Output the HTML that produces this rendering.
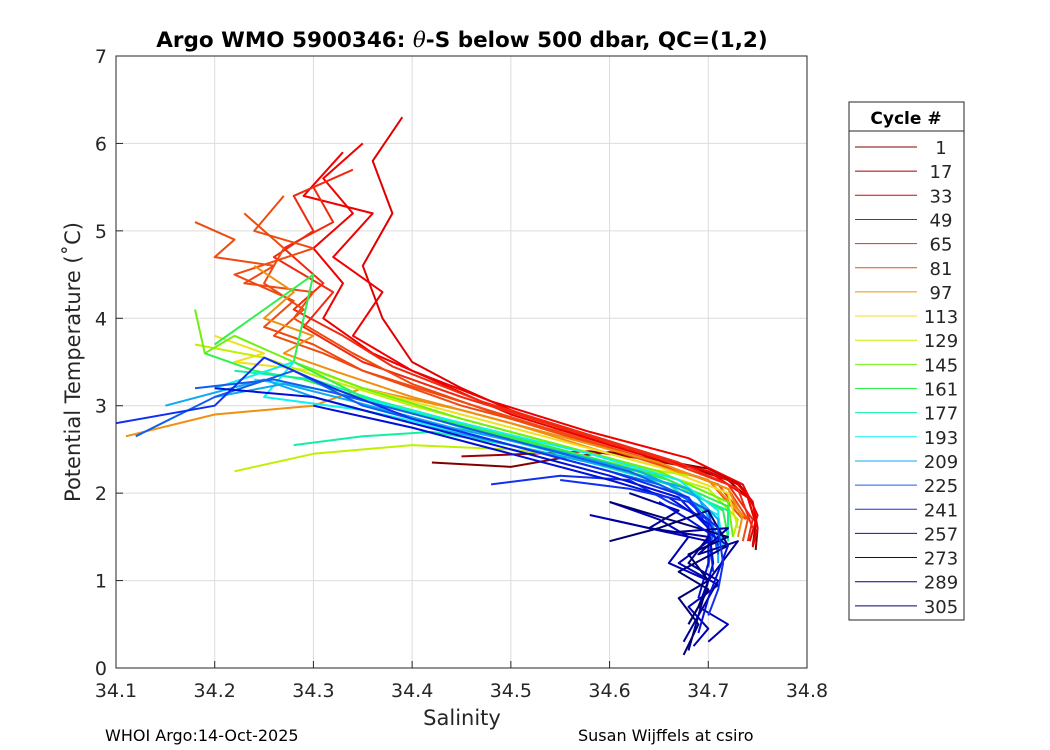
<!DOCTYPE html>
<html><head><meta charset="utf-8"><style>
body{margin:0;background:#fff;}
svg{display:block;font-family:"DejaVu Sans","Liberation Sans",sans-serif;}
</style></head><body>
<svg id="c" width="1050" height="750" viewBox="0 0 1050 750">
<rect width="1050" height="750" fill="#fff"/>
<g id="grid"></g>
<g id="plot"></g>
<rect x="116" y="56" width="691" height="612" fill="none" stroke="#262626" stroke-width="1"/>
<g id="ticks"></g>
<text x="462" y="47" text-anchor="middle" font-size="21.5" font-weight="bold" fill="#000">Argo WMO 5900346: <tspan font-style="italic" font-weight="normal" font-family="DejaVu Serif,serif">θ</tspan>-S below 500 dbar,  QC=(1,2)</text>
<text x="462" y="725" text-anchor="middle" font-size="21" fill="#262626">Salinity</text>
<text transform="translate(80,362) rotate(-90)" text-anchor="middle" font-size="21" fill="#262626">Potential Temperature (˚C)</text>
<text x="105" y="741" font-size="16" fill="#000">WHOI Argo:14-Oct-2025</text>
<text x="578" y="741" font-size="16" fill="#000">Susan Wijffels at csiro</text>
<g id="legend"></g>
</svg>
<script>
const xTicks=[34.1,34.2,34.3,34.4,34.5,34.6,34.7,34.8];
const yTicks=[0,1,2,3,4,5,6,7];
const legendCycles=[1,17,33,49,65,81,97,113,129,145,161,177,193,209,225,241,257,273,289,305];
const legendColors=["#800000","#a00000","#e00000","#f00000","#f02a10","#f04a10","#f09010","#f0e020","#c0f000","#70f010","#30f050","#10f0a0","#10f0f0","#10a8f0","#1060f0","#1030f0","#0010d8","#0000b8","#000098","#000070"];
// curves: color index (legend group), salinity list, temperature list
const curveGroup=[0,1,2,3,3,4,4,5,5,5,6,6,7,8,8,9,10,10,11,11,12,12,13,13,14,14,15,15,16,16,17,17,18,18,19,19,16,15];
const curveSal=[
[34.42,34.5,34.55,34.6,34.65,34.7,34.73,34.745,34.75,34.748],
[34.45,34.52,34.58,34.63,34.68,34.72,34.74,34.748,34.745],
[34.39,34.36,34.38,34.35,34.37,34.4,34.45,34.5,34.55,34.6,34.65,34.7,34.73,34.745,34.75,34.745],
[34.35,34.31,34.34,34.3,34.33,34.31,34.36,34.42,34.5,34.6,34.7,34.74,34.75,34.745],
[34.33,34.29,34.36,34.32,34.37,34.34,34.4,34.48,34.58,34.68,34.735,34.75,34.742],
[34.34,34.28,34.3,34.26,34.32,34.29,34.35,34.45,34.55,34.65,34.72,34.745,34.74],
[34.3,34.32,34.27,34.31,34.28,34.33,34.38,34.47,34.57,34.67,34.73,34.745],
[34.27,34.24,34.3,34.22,34.28,34.25,34.3,34.35,34.45,34.55,34.65,34.72,34.74,34.735],
[34.18,34.22,34.2,34.26,34.23,34.3,34.28,34.34,34.4,34.5,34.6,34.7,34.735],
[34.23,34.27,34.25,34.29,34.26,34.31,34.35,34.42,34.52,34.62,34.71,34.738],
[34.24,34.28,34.25,34.3,34.27,34.32,34.4,34.5,34.6,34.7,34.735,34.73],
[34.11,34.2,34.3,34.35,34.45,34.55,34.65,34.72,34.735],
[34.2,34.25,34.22,34.3,34.35,34.45,34.55,34.65,34.72,34.73],
[34.18,34.25,34.3,34.4,34.5,34.6,34.7,34.73,34.725],
[34.22,34.3,34.4,34.5,34.6,34.68],
[34.18,34.19,34.22,34.28,34.35,34.45,34.55,34.65,34.72,34.725],
[34.2,34.3,34.28,34.35,34.45,34.55,34.65,34.72,34.72],
[34.19,34.24,34.29,34.36,34.46,34.56,34.66,34.715,34.72],
[34.22,34.3,34.38,34.45,34.55,34.65,34.72,34.72],
[34.28,34.35,34.42,34.5,34.58,34.66,34.7],
[34.2,34.28,34.25,34.35,34.45,34.55,34.65,34.71,34.715],
[34.24,34.3,34.38,34.48,34.58,34.67,34.71,34.712],
[34.15,34.25,34.3,34.4,34.5,34.6,34.68,34.71,34.71],
[34.2,34.27,34.34,34.44,34.54,34.63,34.69,34.71],
[34.12,34.2,34.28,34.35,34.45,34.55,34.65,34.7,34.71],
[34.18,34.26,34.32,34.42,34.52,34.62,34.68,34.705,34.7],
[34.1,34.2,34.25,34.32,34.4,34.5,34.6,34.68,34.7,34.705],
[34.48,34.55,34.62,34.66,34.7,34.71],
[34.2,34.3,34.4,34.5,34.6,34.67,34.7,34.7,34.69],
[34.3,34.4,34.5,34.6,34.66,34.7,34.705,34.695,34.68],
[34.6,34.65,34.68,34.66,34.7,34.69,34.72,34.7],
[34.58,34.64,34.7,34.67,34.71,34.68,34.7,34.685],
[34.62,34.67,34.64,34.7,34.68,34.71,34.69,34.68],
[34.6,34.66,34.72,34.69,34.73,34.7,34.69,34.675],
[34.6,34.66,34.72,34.68,34.7,34.67,34.69,34.675],
[34.6,34.65,34.7,34.72,34.67,34.7,34.68],
[34.65,34.68,34.7,34.72,34.71,34.7,34.69],
[34.55,34.62,34.68,34.71,34.715,34.71,34.7]
];
const curveTemp=[
[2.35,2.3,2.4,2.47,2.38,2.28,2.12,1.9,1.6,1.35],
[2.42,2.45,2.48,2.4,2.3,2.15,1.95,1.65,1.4],
[6.3,5.8,5.2,4.6,4.0,3.5,3.2,2.95,2.75,2.55,2.38,2.25,2.1,1.9,1.6,1.38],
[6.0,5.6,5.2,4.8,4.4,4.0,3.6,3.3,2.9,2.55,2.25,1.95,1.6,1.4],
[5.9,5.4,5.2,4.7,4.3,3.8,3.4,3.05,2.7,2.4,2.1,1.75,1.45],
[5.7,5.4,5.0,4.7,4.3,3.9,3.5,3.1,2.75,2.4,2.1,1.7,1.45],
[5.5,5.1,4.8,4.4,4.1,3.8,3.45,3.05,2.7,2.35,2.05,1.6],
[5.4,5.0,4.8,4.5,4.2,3.9,3.7,3.4,3.0,2.7,2.35,2.05,1.7,1.45],
[5.1,4.9,4.7,4.6,4.4,4.3,4.0,3.6,3.25,2.85,2.5,2.15,1.7],
[5.2,4.8,4.4,4.1,3.8,3.6,3.4,3.15,2.8,2.45,2.1,1.7],
[4.6,4.3,4.0,3.8,3.6,3.4,3.1,2.8,2.45,2.15,1.75,1.5],
[2.65,2.9,3.0,3.2,2.95,2.65,2.35,2.05,1.7],
[3.8,3.6,3.5,3.4,3.2,2.9,2.6,2.3,2.0,1.6],
[3.7,3.55,3.35,3.0,2.7,2.4,2.05,1.7,1.5],
[2.25,2.45,2.55,2.5,2.35,2.2],
[4.1,3.6,3.8,3.5,3.2,2.85,2.55,2.25,1.9,1.5],
[3.7,4.5,3.5,3.1,2.8,2.5,2.2,1.85,1.45],
[3.6,3.4,3.3,3.05,2.75,2.45,2.15,1.8,1.5],
[3.4,3.3,3.0,2.75,2.45,2.15,1.8,1.45],
[2.55,2.65,2.7,2.55,2.35,2.1,1.75],
[3.2,3.5,3.1,2.95,2.7,2.4,2.1,1.75,1.4],
[3.3,3.2,3.0,2.72,2.45,2.15,1.8,1.45],
[3.0,3.3,3.1,2.8,2.55,2.3,2.05,1.7,1.2],
[3.1,3.25,3.05,2.75,2.5,2.25,1.95,1.5],
[2.65,3.1,3.4,3.0,2.7,2.4,2.1,1.8,1.3],
[3.2,3.3,3.15,2.85,2.55,2.25,1.95,1.6,1.15],
[2.8,3.0,3.55,3.2,2.85,2.55,2.25,1.95,1.6,1.1],
[2.1,2.2,2.15,1.9,1.7,1.4],
[3.2,3.1,2.8,2.5,2.2,1.95,1.6,1.2,0.8],
[3.0,2.75,2.45,2.15,1.95,1.65,1.2,0.8,0.5],
[1.9,1.7,1.5,1.2,1.0,0.7,0.5,0.3],
[1.75,1.6,1.45,1.2,0.95,0.7,0.45,0.25],
[2.0,1.8,1.6,1.5,1.2,1.0,0.6,0.2],
[1.7,1.55,1.6,1.3,1.45,1.0,0.6,0.3],
[1.9,1.7,1.5,1.3,1.0,0.8,0.5,0.15],
[1.45,1.6,1.8,1.4,1.1,0.9,0.5],
[1.9,1.7,1.55,1.4,1.1,0.8,0.4],
[2.15,2.05,1.9,1.6,1.2,0.9,0.6]
];
const NS="http://www.w3.org/2000/svg";
const X0=116,X1=807,Y0=668,Y1=56;
function sx(s){return X0+(s-34.1)/(34.8-34.1)*(X1-X0);}
function sy(t){return Y0-(t-0)/(7-0)*(Y0-Y1);}
function mk(tag,attrs,parent){const e=document.createElementNS(NS,tag);for(const k in attrs)e.setAttribute(k,attrs[k]);parent.appendChild(e);return e;}
const grid=document.getElementById('grid'),ticks=document.getElementById('ticks'),plot=document.getElementById('plot'),leg=document.getElementById('legend');
xTicks.forEach(v=>{
  const x=sx(v);
  const g=mk('line',{x1:x,x2:x,y1:Y1,y2:Y0,stroke:'#dcdcdc','stroke-width':1},grid);
  
  
  const t=mk('line',{x1:x,x2:x,y1:Y0,y2:Y0-7,stroke:'#262626'},ticks);
  
  
  const l=mk('text',{x:x,y:697,'text-anchor':'middle','font-size':19,fill:'#262626'},ticks);
  l.textContent=v.toFixed(1);
  
  
});
yTicks.forEach(v=>{
  const y=sy(v);
  const g=mk('line',{x1:X0,x2:X1,y1:y,y2:y,stroke:'#dcdcdc','stroke-width':1},grid);
  
  
  const t=mk('line',{x1:X0,x2:X0+7,y1:y,y2:y,stroke:'#262626'},ticks);
  
  
  const l=mk('text',{x:107,y:y+7,'text-anchor':'end','font-size':19,fill:'#262626'},ticks);
  l.textContent=v;
  
  
});
curveSal.forEach((sal,i)=>{
  const pts=sal.map((s,j)=>sx(s).toFixed(1)+','+sy(curveTemp[i][j]).toFixed(1)).join(' ');
  const p=mk('polyline',{points:pts,fill:'none',stroke:legendColors[curveGroup[i]],'stroke-width':2,'stroke-linejoin':'round'},plot);
  
  
});
const lb=mk('rect',{x:849,y:102,width:115,height:518,fill:'#fff',stroke:'#262626'},leg);


mk('line',{x1:849,x2:964,y1:131,y2:131,stroke:'#262626'},leg);
const lt=mk('text',{x:906,y:124,'text-anchor':'middle','font-size':17,'font-weight':'bold',fill:'#000'},leg);
lt.textContent='Cycle #';


legendCycles.forEach((c,i)=>{
  const y=147+i*24.15;
  const g=mk('g',{},leg);
  
  
  mk('line',{x1:855,x2:917,y1:y,y2:y,stroke:legendColors[i],'stroke-width':1},g);
  const t=mk('text',{x:941,y:y+7,'text-anchor':'middle','font-size':18,fill:'#262626'},g);
  t.textContent=c;
});
</script>
</body></html>
